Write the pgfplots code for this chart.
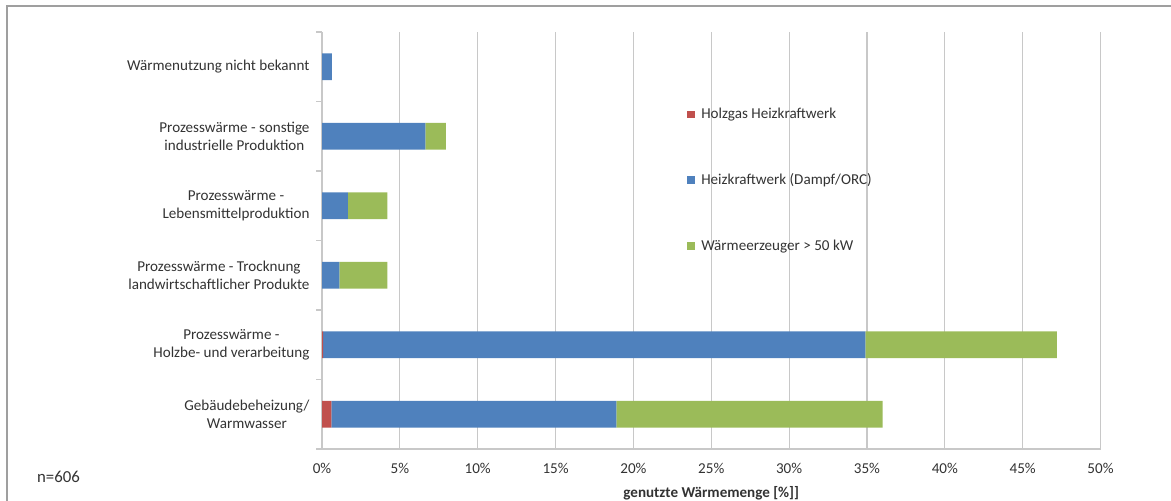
\documentclass[border=0pt]{standalone}
\usepackage{pgfplots}
\pgfplotsset{compat=1.18}
\usepackage{fontspec}
\setmainfont{Carlito}
\definecolor{cred}{HTML}{C0504D}
\definecolor{cblue}{HTML}{4F81BD}
\definecolor{cgreen}{HTML}{9BBB59}
\definecolor{txt}{HTML}{333333}
\definecolor{gridc}{HTML}{C8C8C8}
\newcommand\fs{\fontsize{15.1bp}{17.8bp}\selectfont}
\pgfplotstableread{
y red blue green
0 0.6  18.3  17.1
1 0.08 34.82 12.3
2 0    1.11  3.09
3 0    1.66  2.54
4 0    6.64  1.31
5 0    0.64  0
}\datatab
\begin{document}
\begin{tikzpicture}
\path[use as bounding box] (0,0) rectangle (1171bp,501bp);
\draw[gray!75, line width=1.3bp] (7bp,0) -- (7bp,495bp) -- (1171bp,495bp);
\node[font=\fontsize{16.8bp}{19bp}\selectfont, text=txt] at (58.5bp,24bp) {n=606};
\begin{axis}[
  at={(322bp,52bp)}, anchor=south west,
  scale only axis, width=778.5bp, height=417bp,
  xbar stacked, bar width=26.7bp,
  xmin=0, xmax=50, ymin=-0.5, ymax=5.5,
  axis x line*=bottom, axis y line*=left,
  axis line style={draw=gridc, line width=1.2bp, -},
  xtick={0,5,...,50},
  xticklabels={0\%,5\%,10\%,15\%,20\%,25\%,30\%,35\%,40\%,45\%,50\%},
  xtick style={draw=none},
  xmajorgrids=true,
  grid style={draw=gridc, line width=1.2bp},
  ytick={0,1,2,3,4,5},
  yticklabels={{Gebäudebeheizung/\\Warmwasser},
               {Prozesswärme -\\Holzbe- und verarbeitung},
               {Prozesswärme - Trocknung\\landwirtschaftlicher Produkte},
               {Prozesswärme -\\Lebensmittelproduktion},
               {Prozesswärme - sonstige\\industrielle Produktion},
               {Wärmenutzung nicht bekannt}},
  major tick length=0pt,
  minor ytick={-0.5,0.5,...,5.5},
  minor tick length=6bp,
  tick align=outside,
  ytick style={draw=gridc, line width=1.2bp},
  yticklabel style={font=\fs, text=txt, align=center, xshift=-9bp},
  xticklabel style={font=\fs, text=txt, yshift=-11bp},
  xlabel={genutzte Wärmemenge [\%]]},
  xlabel style={font=\fs\bfseries, text=txt, at={(axis description cs:0.5,-0.105)}, anchor=center},
  legend style={at={(axis description cs:0.469,0.822)}, anchor=north west,
    draw=none, fill=none, font=\fs, text=txt, row sep=49.5bp, inner sep=0pt,
    /tikz/every odd column/.append style={column sep=4bp}},
  legend cell align=left,
  clip=false,
]
\addplot[fill=cred, draw=none, legend image code/.code={\fill[cred] (0bp,-3.8bp) rectangle (8bp,3.8bp);}] table[x=red, y=y] {\datatab};
\addlegendentry{Holzgas Heizkraftwerk}
\addplot[fill=cblue, draw=none, legend image code/.code={\fill[cblue] (0bp,-3.8bp) rectangle (8bp,3.8bp);}] table[x=blue, y=y] {\datatab};
\addlegendentry{Heizkraftwerk (Dampf/ORC)}
\addplot[fill=cgreen, draw=none, legend image code/.code={\fill[cgreen] (0bp,-3.8bp) rectangle (8bp,3.8bp);}] table[x=green, y=y] {\datatab};
\addlegendentry{Wärmeerzeuger > 50 kW}
\end{axis}
\end{tikzpicture}
\end{document}
